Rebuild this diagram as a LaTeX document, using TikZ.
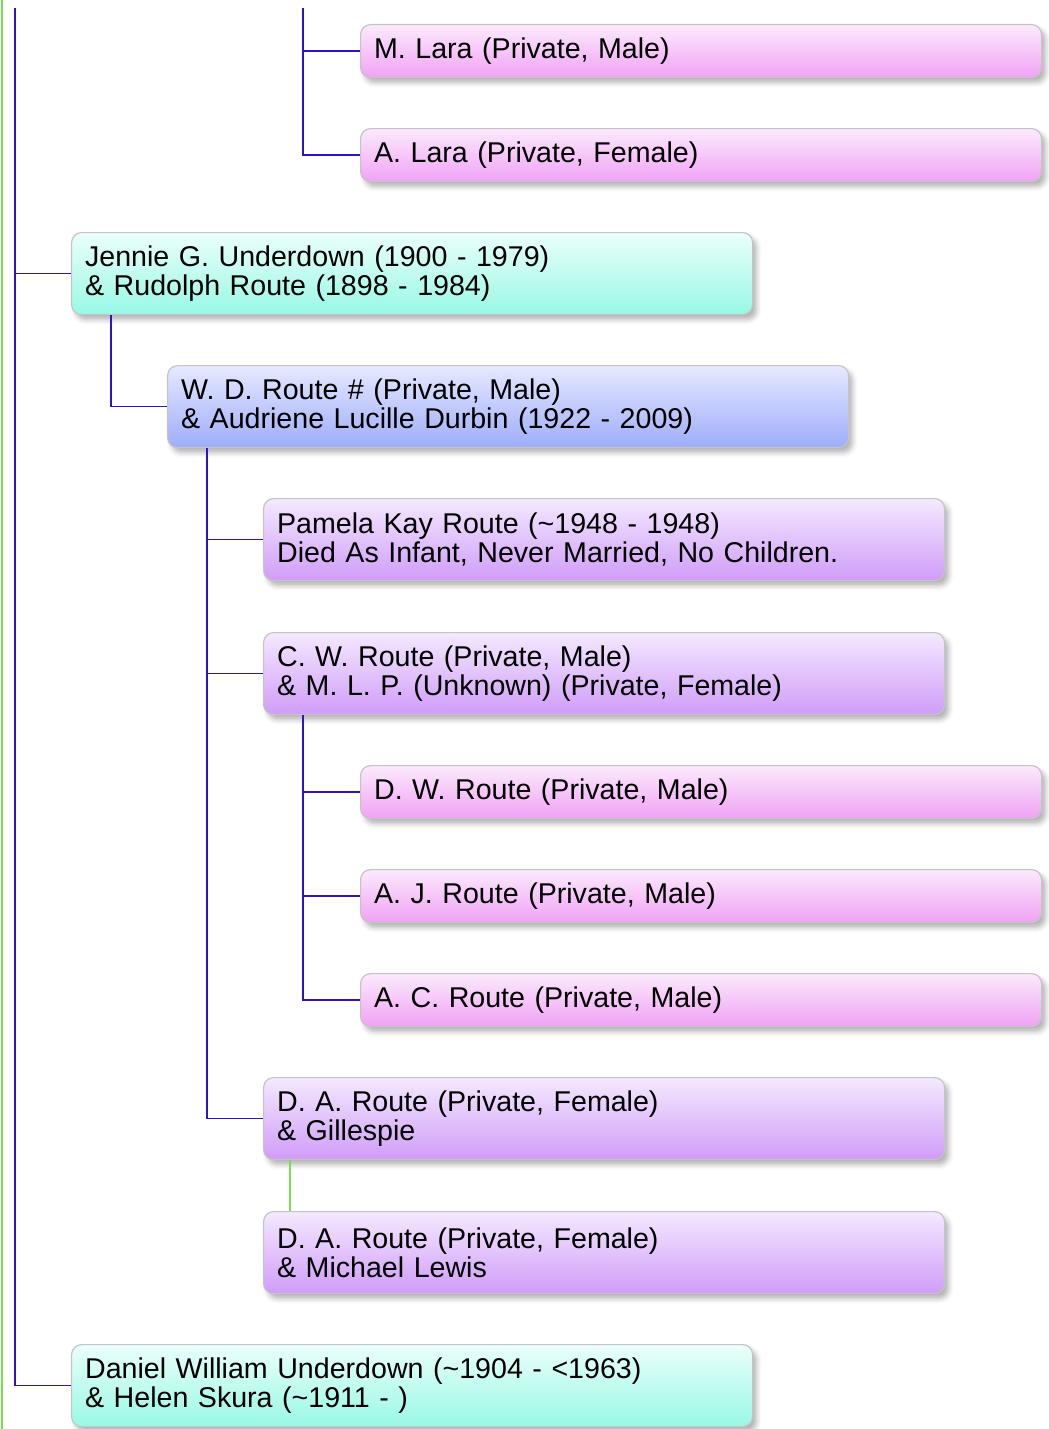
\documentclass[tikz,border=0pt]{standalone}
\usepackage{fontspec}
\setmainfont{Liberation Sans}
\usetikzlibrary{positioning,shadows.blur}

\definecolor{linkblue}{RGB}{51,17,204}
\definecolor{linkgreen}{RGB}{119,221,85}
\definecolor{boxgray}{RGB}{196,196,196}
\definecolor{pinktop}{RGB}{252,234,253}
\definecolor{pinkbot}{RGB}{240,162,245}
\definecolor{cyantop}{RGB}{234,255,251}
\definecolor{cyanbot}{RGB}{152,248,229}
\definecolor{bluetop}{RGB}{230,233,255}
\definecolor{bluebot}{RGB}{158,173,250}
\definecolor{purptop}{RGB}{244,233,255}
\definecolor{purpbot}{RGB}{208,156,248}

\begin{document}
\begin{tikzpicture}[x=1pt,y=-1pt,
	person/.style={draw=boxgray, line width=1.2pt, rounded corners=10pt,
		anchor=north west, text width=654pt, inner xsep=13.5pt, inner ysep=0pt,
		align=left, font=\fontsize{28.6}{29}\selectfont,
		blur shadow={shadow xshift=4pt, shadow yshift=-5pt,
			shadow blur radius=5pt, shadow opacity=30}},
	single/.style={person, minimum height=53pt},
	couple/.style={person, minimum height=82pt},
	pink/.style={top color=pinktop, bottom color=pinkbot},
	cyan/.style={top color=cyantop, bottom color=cyanbot},
	blue/.style={top color=bluetop, bottom color=bluebot},
	purp/.style={top color=purptop, bottom color=purpbot},
	link/.style={linkblue, line width=1.5pt},
	spouse/.style={linkgreen, line width=1.5pt}]
	
	\useasboundingbox (0,0) rectangle (1049,1429);
	
	%--- Lara branch (top) ---
	\node[single,pink] (mlara) at (360,24)  {M. Lara (Private, Male)};
	\node[single,pink] (alara) at (360,128) {A. Lara (Private, Female)};
	
	%--- Underdown / Route family ---
	\node[couple,cyan] (jennie)  at (71,232)  {Jennie G. Underdown (1900 - 1979)\\ \& Rudolph Route (1898 - 1984)};
	\node[couple,blue] (wdroute) at (167,365) {W. D. Route \# (Private, Male)\\ \& Audriene Lucille Durbin (1922 - 2009)};
	\node[couple,purp] (pamela)  at (263,498) {Pamela Kay Route (\textasciitilde1948 - 1948)\\ Died As Infant, Never Married, No Children.};
	\node[couple,purp] (cwroute) at (263,632) {C. W. Route (Private, Male)\\ \& M. L. P. (Unknown) (Private, Female)};
	
	\node[single,pink] (dwroute) at (360,765) {D. W. Route (Private, Male)};
	\node[single,pink] (ajroute) at (360,869) {A. J. Route (Private, Male)};
	\node[single,pink] (acroute) at (360,973) {A. C. Route (Private, Male)};
	
	\node[couple,purp] (dagill)  at (263,1077) {D. A. Route (Private, Female)\\ \& Gillespie};
	\node[couple,purp] (dalewis) at (263,1211) {D. A. Route (Private, Female)\\ \& Michael Lewis};
	
	\node[couple,cyan] (daniel)  at (71,1344) {Daniel William Underdown (\textasciitilde1904 - <1963)\\ \& Helen Skura (\textasciitilde1911 - )};
	
	%--- free ends at the top / left ---
	\coordinate (trunk) at (15,8);
	\coordinate (laratop) at (303,8);
	\coordinate (gtop) at (2,0);
	\coordinate (gbot) at (2,1429);
	
	% green line (left edge)
	\draw[spouse] (gtop) -- (gbot);
	
	% main trunk
	\draw[link] (trunk) |- (jennie.west);
	\draw[link] (trunk) |- (daniel.west);
	
	% Lara children
	\draw[link] (laratop) |- (mlara.west);
	\draw[link] (laratop) |- (alara.west);
	
	% Jennie -> W. D.
	\draw[link] ([xshift=40pt]jennie.south west) |- (wdroute.west);
	
	% W. D. -> children
	\draw[link] ([xshift=40pt]wdroute.south west) |- (pamela.west);
	\draw[link] ([xshift=40pt]wdroute.south west) |- (cwroute.west);
	\draw[link] ([xshift=40pt]wdroute.south west) |- (dagill.west);
	
	% C. W. -> children
	\draw[link] ([xshift=40pt]cwroute.south west) |- (dwroute.west);
	\draw[link] ([xshift=40pt]cwroute.south west) |- (ajroute.west);
	\draw[link] ([xshift=40pt]cwroute.south west) |- (acroute.west);
	
	% second marriage (green)
	\draw[spouse] ([xshift=27pt]dagill.south west) -- ([xshift=27pt]dalewis.north west);
	
\end{tikzpicture}
\end{document}
